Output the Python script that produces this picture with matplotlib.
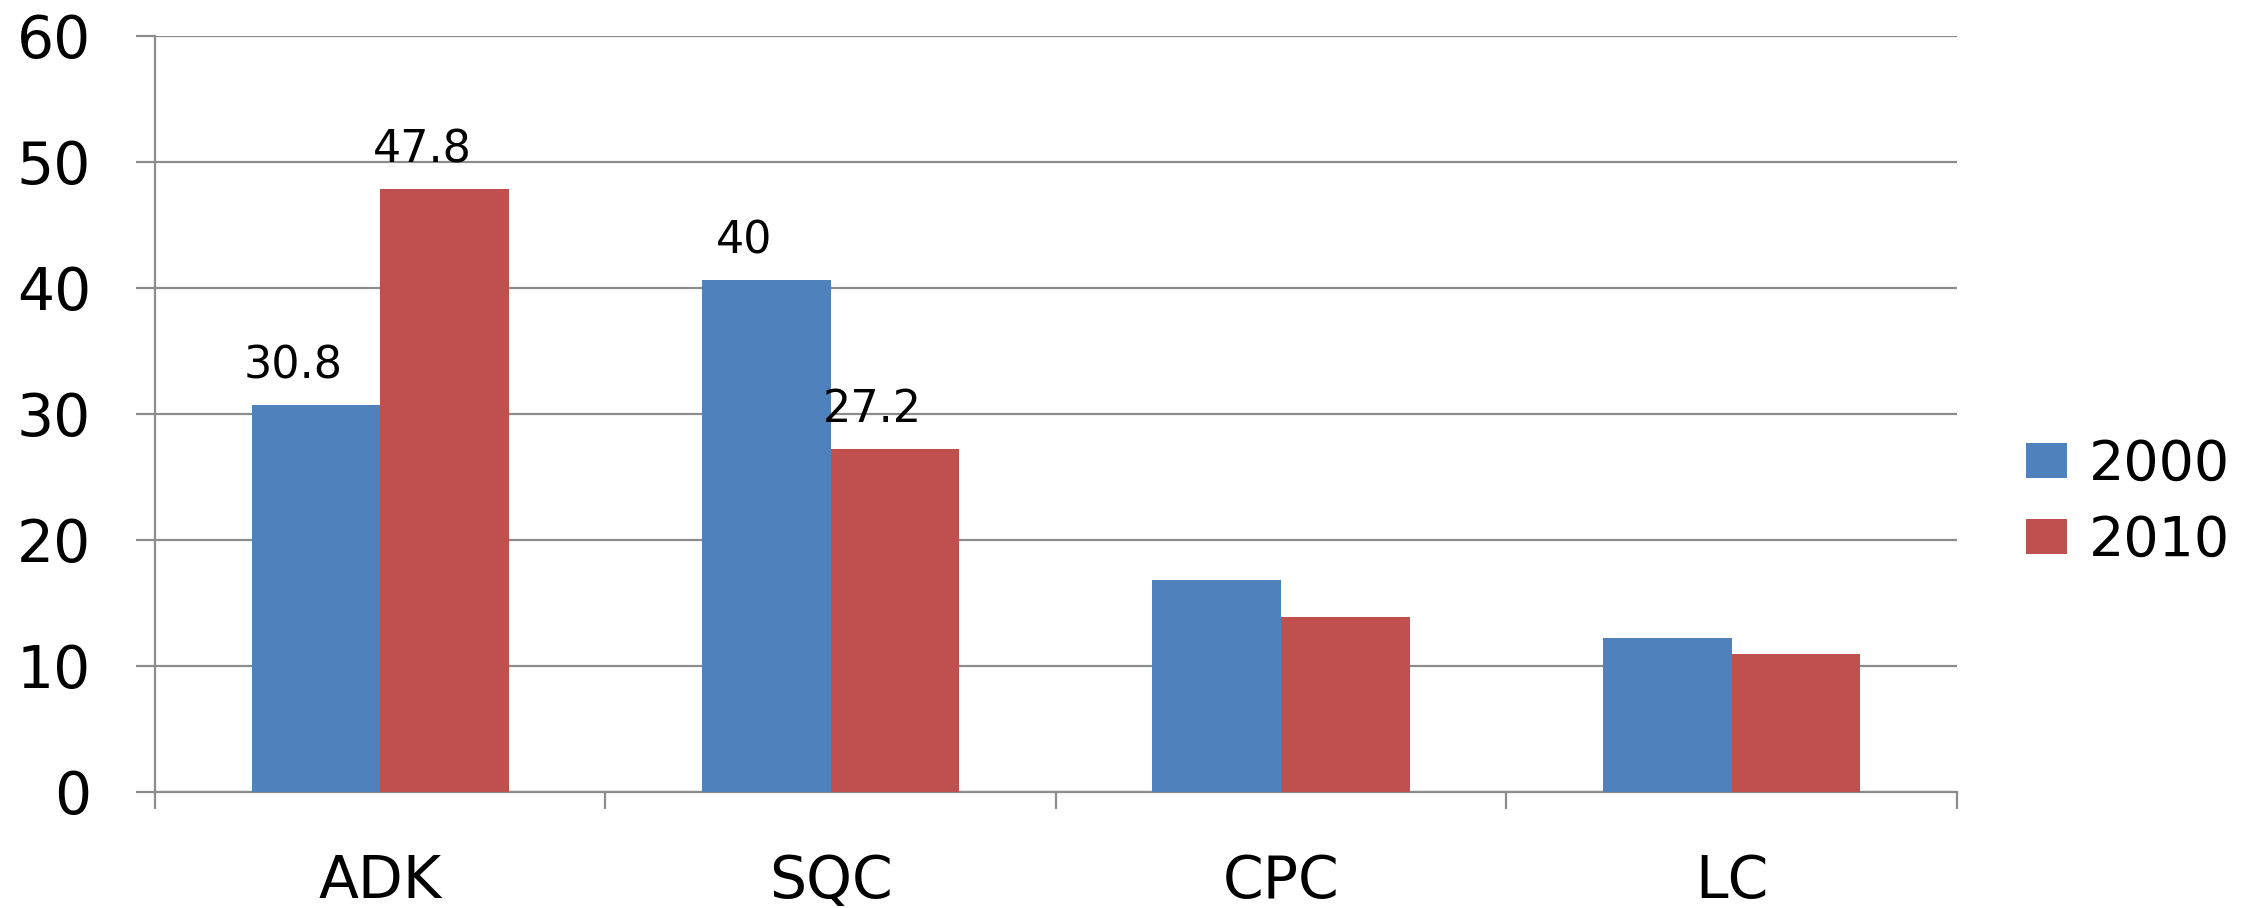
import matplotlib
matplotlib.use("Agg")
import matplotlib.pyplot as plt
import numpy as np

categories = ["ADK", "SQC", "CPC", "LC"]
series = ["2000", "2010"]
vals_2000 = [30.7, 40.6, 16.8, 12.2]
vals_2010 = [47.8, 27.2, 13.9, 10.9]
# data labels shown in the chart (only on the first two groups)
labels_2000 = ["30.8", "40", None, None]
labels_2010 = ["47.8", "27.2", None, None]
yticks = [0, 10, 20, 30, 40, 50, 60]

blue = "#4F81BD"
red = "#C0504D"
grey = "#8C8C8C"

plt.rcParams['font.family'] = ['DejaVu Sans']

fig = plt.figure(figsize=(22.46, 9.08), dpi=100)
ax = fig.add_axes([0.069, 0.128, 0.8023, 0.8326])

x = np.arange(len(categories))
w = 1 / 3.5
b1 = ax.bar(x - w / 2, vals_2000, w, color=blue, label=series[0], zorder=3)
b2 = ax.bar(x + w / 2, vals_2010, w, color=red, label=series[1], zorder=3)

for bars, labs in ((b1, labels_2000), (b2, labels_2010)):
    for r, lab in zip(bars, labs):
        if lab is None:
            continue
        ax.text(r.get_x() + r.get_width() / 2 - 0.05, r.get_height() + 1.4, lab,
                ha="center", va="bottom", fontsize=32, color="black")

ax.set_xlim(-0.5, len(categories) - 0.5)
ax.set_ylim(0, 60)
ax.set_yticks(yticks)
ax.yaxis.grid(True, color=grey, linewidth=1.6, zorder=0)
ax.set_axisbelow(True)

for s in ("top", "right"):
    ax.spines[s].set_visible(False)
for s in ("left", "bottom"):
    ax.spines[s].set_color(grey)
    ax.spines[s].set_linewidth(1.6)

ax.tick_params(axis="y", direction="out", length=14, width=1.6, color=grey,
               labelsize=42, pad=32)
ax.set_xticks(x)
ax.set_xticklabels(categories)
ax.set_xticks(np.arange(len(categories) + 1) - 0.5, minor=True)
ax.tick_params(axis="x", which="major", length=0, labelsize=42, pad=44)
ax.tick_params(axis="x", which="minor", direction="out", length=12, width=1.6, color=grey)

ax.legend(loc="center left", bbox_to_anchor=(0.892, 0.446), bbox_transform=fig.transFigure,
          frameon=False, fontsize=40, handlelength=0.74, handleheight=0.58,
          handletextpad=0.4, labelspacing=0.4, borderaxespad=0)

fig.savefig("out.png", dpi=100)
